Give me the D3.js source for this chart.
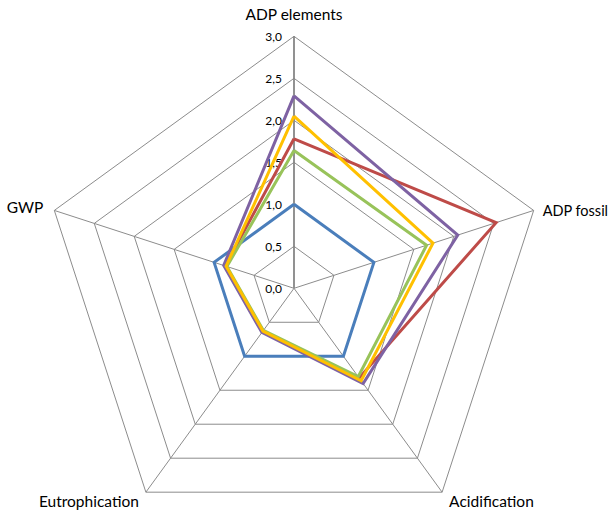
<!DOCTYPE html>
<html>
<head>
<meta charset="utf-8">
<script src="https://cdn.jsdelivr.net/npm/d3@7"></script>
<style>
  html, body { margin: 0; padding: 0; background: #fff; }
  svg { display: block; }
  text { font-family: Lato, "Open Sans", sans-serif; fill: #000; }
</style>
</head>
<body>
<svg id="chart" width="611" height="510"></svg>
<script>
const categories = ["ADP elements", "ADP fossil", "Acidification", "Eutrophication", "GWP"];
const tickValues = [0, 0.5, 1.0, 1.5, 2.0, 2.5, 3.0];
const tickLabels = ["0,0", "0,5", "1,0", "1,5", "2,0", "2,5", "3,0"];
const seriesBlue   = [1.00, 1.00, 1.00, 1.00, 1.00];
const seriesRed    = [1.78, 2.53, 1.32, 0.63, 0.86];
const seriesGreen  = [1.64, 1.66, 1.30, 0.62, 0.84];
const seriesPurple = [2.29, 2.05, 1.40, 0.65, 0.88];
const seriesYellow = [2.05, 1.74, 1.36, 0.63, 0.85];
const seriesColors = ["#4A7EBB", "#BE4B48", "#98C35A", "#7E62A3", "#FFC000"];

const series = [seriesBlue, seriesRed, seriesGreen, seriesPurple, seriesYellow];

const cx = 294, cy = 288.3;
const svg = d3.select("#chart");
const g = svg.append("g").attr("transform", `translate(${cx},${cy})`);

const r = d3.scaleLinear().domain([0, 3]).range([0, 252]);
const angle = d3.scaleLinear().domain([0, categories.length]).range([0, 2 * Math.PI]);

const pt = (i, v) => [Math.sin(angle(i)) * r(v), -Math.cos(angle(i)) * r(v)];

// grid rings
const ringLine = d3.line();
tickValues.filter(v => v > 0).forEach(v => {
  const pts = categories.map((c, i) => pt(i, v));
  pts.push(pts[0]);
  g.append("path")
    .attr("d", ringLine(pts))
    .attr("fill", "none")
    .attr("stroke", "#8C8C8C")
    .attr("stroke-width", 1);
});

// spokes
categories.forEach((c, i) => {
  const [x, y] = pt(i, 3);
  g.append("line")
    .attr("x1", 0).attr("y1", 0).attr("x2", x).attr("y2", y)
    .attr("stroke", i === 0 ? "#868686" : "#8C8C8C")
    .attr("stroke-width", i === 0 ? 1.8 : 1);
});

// tick labels along the first axis
tickValues.forEach((v, k) => {
  g.append("text")
    .attr("x", -12)
    .attr("y", -r(v))
    .attr("dy", "0.35em")
    .attr("text-anchor", "end")
    .attr("font-size", "12px")
    .text(tickLabels[k]);
});

// series
const line = d3.line();
series.forEach((s, k) => {
  const pts = s.map((v, i) => pt(i, v));
  pts.push(pts[0]);
  g.append("path")
    .attr("d", line(pts))
    .attr("fill", "none")
    .attr("stroke", seriesColors[k])
    .attr("stroke-width", 3)
    .attr("stroke-linejoin", "miter");
});

// category labels
const labelCfg = [
  { dx: 0,  dy: -22, anchor: "middle", size: 15.5 },
  { dx: 9,  dy: 0,   anchor: "start",  size: 14.5 },
  { dx: 7,  dy: 9,   anchor: "start",  size: 15.5 },
  { dx: -7, dy: 9,   anchor: "end",    size: 15.5 },
  { dx: -11, dy: -3, anchor: "end",    size: 15.5 }
];
categories.forEach((c, i) => {
  const [x, y] = pt(i, 3);
  const cfg = labelCfg[i];
  g.append("text")
    .attr("x", x + cfg.dx)
    .attr("y", y + cfg.dy)
    .attr("dy", "0.35em")
    .attr("text-anchor", cfg.anchor)
    .attr("font-size", cfg.size + "px")
    .text(c);
});
</script>
</body>
</html>
